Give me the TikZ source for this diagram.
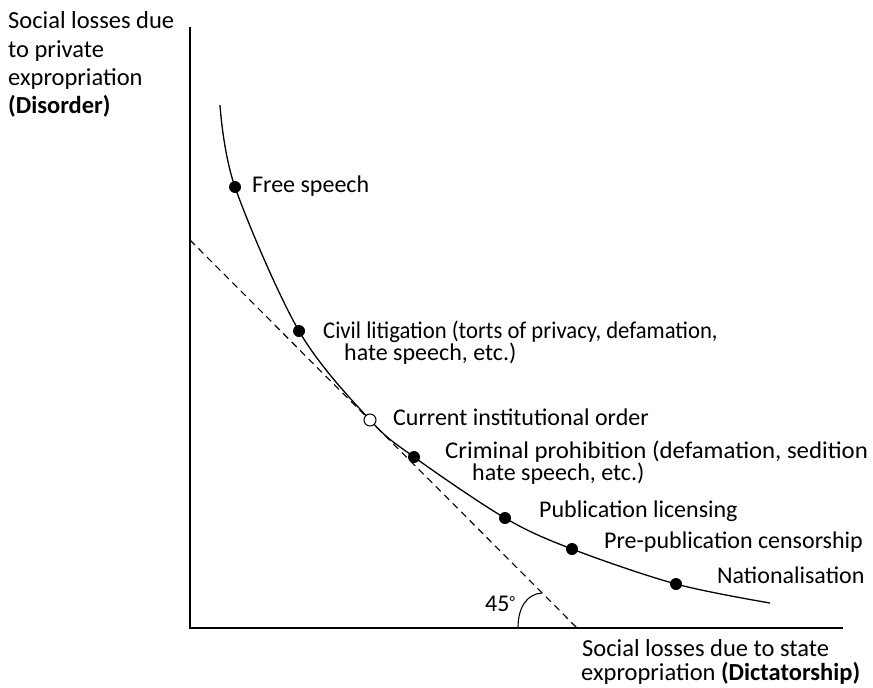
\documentclass[tikz,border=0pt]{standalone}
\usepackage{fontspec}
\usepackage{graphicx}
\setmainfont{Carlito}
\begin{document}
\begin{tikzpicture}[x=1pt,y=-1pt,
  lbl/.style={font=\fontsize{24}{29}\selectfont, inner sep=0pt, anchor=base west},
  biglbl/.style={font=\fontsize{24.5}{29}\selectfont, inner sep=0pt, anchor=base west},
  axisline/.style={line width=1.3pt},
  curveline/.style={line width=1.3pt},
  tangent/.style={line width=1.1pt, dash pattern=on 7pt off 5pt},
  dot/.style={circle, fill=black, inner sep=0pt, minimum size=12pt},
  odot/.style={circle, draw=black, fill=white, line width=1pt, inner sep=0pt, minimum size=12pt}]
\useasboundingbox (0,0) rectangle (873,688);
% axes
\coordinate (ytop) at (190,27);
\coordinate (O) at (190,628);
\coordinate (xend) at (843,628);
\draw[axisline] (ytop) -- (O) -- (xend);
% tangent line
\coordinate (d1) at (190,240);
\coordinate (d2) at (577,628);
\draw[tangent] (d1) -- (d2);
% angle arc
\coordinate (a1) at (518,628);
\coordinate (a2) at (542,593);
\draw[line width=1.1pt] (a1) .. controls (518,607) and (527,594) .. (a2);
\node[lbl] (deg) at (485,611) {45\raisebox{0.15em}{\fontsize{16}{16}\selectfont°}};
% curve
\draw[curveline] plot[smooth, tension=0.55] coordinates {(220,105) (235,187) (299,331) (370,420) (414,457) (505,518) (572,549) (676,584) (770,603)};
% points
\node[dot] (fs) at (235,187) {};
\node[dot] (cl) at (299,331) {};
\node[odot] (cur) at (370,420) {};
\node[dot] (cp) at (414,457) {};
\node[dot] (pl) at (505,518) {};
\node[dot] (pp) at (572,549) {};
\node[dot] (na) at (676,584) {};
% point labels
\node[lbl] (tfs) at (252,192) {Free speech};
\node[lbl] (tcl1) at (323,338) {\scalebox{0.945}[1]{Civil litigation (torts of privacy, defamation,}};
\node[lbl] (tcl2) at (344,360) {hate speech, etc.)};
\node[lbl] (tcur) at (393,425) {Current institutional order};
\node[lbl] (tcp1) at (445,458) {\scalebox{1.035}[1]{Criminal prohibition (defamation, sedition}};
\node[lbl] (tcp2) at (472,480) {hate speech, etc.)};
\node[lbl] (tpl) at (539,517) {Publication licensing};
\node[lbl] (tpp) at (604,548) {Pre-publication censorship};
\node[lbl] (tna) at (717,583) {Nationalisation};
% axis labels
\node[biglbl] (y1) at (8,28) {Social losses due};
\node[biglbl] (y2) at (8,57) {to private};
\node[biglbl] (y3) at (8,85) {expropriation};
\node[biglbl] (y4) at (8,113) {\bfseries (Disorder)};
\node[biglbl] (x1) at (582,656) {Social losses due to state};
\node[biglbl] (x2) at (581,680) {expropriation \textbf{(Dictatorship)}};
\end{tikzpicture}
\end{document}
